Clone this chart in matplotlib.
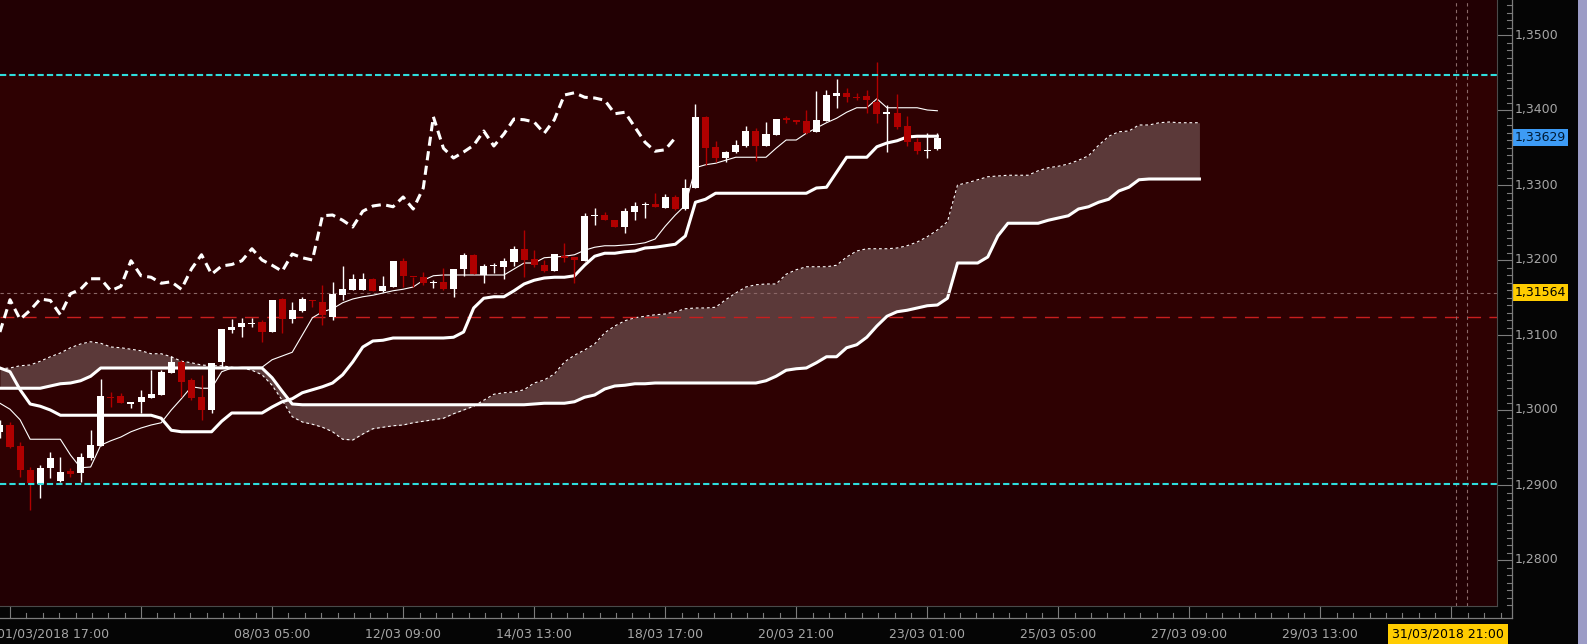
import numpy as np
import matplotlib
matplotlib.use('Agg')
import matplotlib.pyplot as plt
from matplotlib.transforms import blended_transform_factory
from matplotlib.patches import Rectangle
from matplotlib.lines import Line2D

# ---------------- data (4h candles, bar index 0 = 01/03/2018 17:00) ----------------
opens = [1.2971, 1.2980, 1.2952, 1.2920, 1.2901, 1.2923, 1.2905, 1.2919, 1.2916, 1.2936,
         1.2952, 1.3018, 1.3019, 1.3008, 1.3011, 1.3016, 1.3020, 1.3049, 1.3064, 1.3040,
         1.3017, 1.3000, 1.3064, 1.3107, 1.3111, 1.3115, 1.3117, 1.3104, 1.3148, 1.3121,
         1.3132, 1.3147, 1.3144, 1.3124, 1.3153, 1.3160, 1.3160, 1.3175, 1.3159, 1.3164,
         1.3199, 1.3178, 1.3177, 1.3170, 1.3171, 1.3161, 1.3188, 1.3207, 1.3180, 1.3192,
         1.3191, 1.3197, 1.3215, 1.3201, 1.3193, 1.3185, 1.3206, 1.3204, 1.3199, 1.3259,
         1.3260, 1.3253, 1.3244, 1.3264, 1.3273, 1.3275, 1.3270, 1.3284, 1.3268, 1.3296,
         1.3391, 1.3351, 1.3336, 1.3344, 1.3352, 1.3372, 1.3352, 1.3367, 1.3389, 1.3387,
         1.3385, 1.3371, 1.3385, 1.3419, 1.3423, 1.3418, 1.3419, 1.3411, 1.3395, 1.3396,
         1.3379, 1.3357, 1.3346, 1.3348]
highs = [1.2987, 1.2984, 1.2957, 1.2924, 1.2927, 1.2944, 1.2937, 1.2923, 1.2943, 1.2973,
         1.3041, 1.3024, 1.3023, 1.3011, 1.3027, 1.3053, 1.3053, 1.3072, 1.3067, 1.3043,
         1.3047, 1.3063, 1.3108, 1.3121, 1.3123, 1.3123, 1.3120, 1.3147, 1.3149, 1.3144,
         1.3151, 1.3147, 1.3167, 1.3171, 1.3192, 1.3181, 1.3183, 1.3176, 1.3179, 1.3199,
         1.3203, 1.3178, 1.3184, 1.3173, 1.3189, 1.3188, 1.3209, 1.3208, 1.3195, 1.3196,
         1.3203, 1.3219, 1.3240, 1.3213, 1.3200, 1.3208, 1.3223, 1.3204, 1.3263, 1.3269,
         1.3264, 1.3254, 1.3269, 1.3277, 1.3277, 1.3289, 1.3288, 1.3287, 1.3308, 1.3408,
         1.3392, 1.3359, 1.3345, 1.3360, 1.3379, 1.3376, 1.3384, 1.3388, 1.3392, 1.3387,
         1.3400, 1.3425, 1.3427, 1.3441, 1.3429, 1.3423, 1.3427, 1.3464, 1.3407, 1.3421,
         1.3392, 1.3363, 1.3369, 1.3369]
lows = [1.2963, 1.2949, 1.2911, 1.2867, 1.2883, 1.2909, 1.2904, 1.2911, 1.2904, 1.2933,
        1.2952, 1.3004, 1.3009, 1.3003, 1.2996, 1.3016, 1.3020, 1.3049, 1.3017, 1.3013,
        1.2987, 1.2996, 1.3057, 1.3103, 1.3097, 1.3111, 1.3091, 1.3104, 1.3103, 1.3116,
        1.3131, 1.3137, 1.3113, 1.3120, 1.3147, 1.3160, 1.3160, 1.3159, 1.3157, 1.3164,
        1.3164, 1.3164, 1.3167, 1.3163, 1.3160, 1.3151, 1.3179, 1.3181, 1.3169, 1.3183,
        1.3175, 1.3192, 1.3177, 1.3191, 1.3184, 1.3185, 1.3197, 1.3169, 1.3199, 1.3247,
        1.3253, 1.3244, 1.3236, 1.3253, 1.3256, 1.3271, 1.3269, 1.3267, 1.3267, 1.3296,
        1.3327, 1.3331, 1.3331, 1.3343, 1.3351, 1.3332, 1.3352, 1.3367, 1.3383, 1.3381,
        1.3368, 1.3371, 1.3385, 1.3403, 1.3411, 1.3413, 1.3396, 1.3383, 1.3344, 1.3375,
        1.3352, 1.3341, 1.3336, 1.3347]
closes = [1.2980, 1.2951, 1.2920, 1.2903, 1.2923, 1.2936, 1.2917, 1.2915, 1.2937, 1.2953,
          1.3019, 1.3016, 1.3009, 1.3011, 1.3017, 1.3021, 1.3051, 1.3064, 1.3037, 1.3016,
          1.3000, 1.3063, 1.3108, 1.3111, 1.3116, 1.3116, 1.3104, 1.3147, 1.3121, 1.3133,
          1.3148, 1.3146, 1.3127, 1.3155, 1.3161, 1.3175, 1.3175, 1.3159, 1.3165, 1.3199,
          1.3179, 1.3177, 1.3169, 1.3171, 1.3161, 1.3188, 1.3207, 1.3181, 1.3192, 1.3194,
          1.3199, 1.3215, 1.3200, 1.3193, 1.3185, 1.3208, 1.3203, 1.3200, 1.3259, 1.3260,
          1.3253, 1.3244, 1.3265, 1.3272, 1.3274, 1.3271, 1.3284, 1.3268, 1.3296, 1.3391,
          1.3349, 1.3336, 1.3344, 1.3353, 1.3372, 1.3352, 1.3368, 1.3388, 1.3387, 1.3384,
          1.3369, 1.3387, 1.3420, 1.3423, 1.3417, 1.3416, 1.3413, 1.3395, 1.3397, 1.3377,
          1.3357, 1.3345, 1.3347, 1.3363]

tenkan = [1.3009, 1.3001, 1.2987, 1.2961, 1.2961, 1.2961, 1.2961, 1.2940, 1.2923, 1.2924,
          1.2953, 1.2959, 1.2964, 1.2971, 1.2976, 1.2980, 1.2983, 1.3000, 1.3015, 1.3031,
          1.3029, 1.3029, 1.3051, 1.3056, 1.3057, 1.3057, 1.3057, 1.3067, 1.3072, 1.3077,
          1.3100, 1.3123, 1.3131, 1.3135, 1.3143, 1.3148, 1.3151, 1.3153, 1.3156, 1.3159,
          1.3161, 1.3164, 1.3173, 1.3179, 1.3180, 1.3180, 1.3180, 1.3180, 1.3180, 1.3180,
          1.3180, 1.3188, 1.3196, 1.3196, 1.3203, 1.3204, 1.3205, 1.3207, 1.3213, 1.3217,
          1.3219, 1.3219, 1.3220, 1.3221, 1.3223, 1.3228, 1.3245, 1.3260, 1.3273, 1.3323,
          1.3327, 1.3329, 1.3333, 1.3337, 1.3337, 1.3337, 1.3337, 1.3349, 1.3360, 1.3360,
          1.3369, 1.3376, 1.3383, 1.3389, 1.3397, 1.3403, 1.3403, 1.3415, 1.3403, 1.3403,
          1.3403, 1.3403, 1.3400, 1.3399]
kijun = [1.3056, 1.3051, 1.3027, 1.3008, 1.3005, 1.3000, 1.2993, 1.2993, 1.2993, 1.2993,
         1.2993, 1.2993, 1.2993, 1.2993, 1.2993, 1.2993, 1.2989, 1.2973, 1.2971, 1.2971,
         1.2971, 1.2971, 1.2985, 1.2996, 1.2996, 1.2996, 1.2996, 1.3004, 1.3011, 1.3015,
         1.3023, 1.3027, 1.3031, 1.3036, 1.3047, 1.3064, 1.3084, 1.3092, 1.3093, 1.3096,
         1.3096, 1.3096, 1.3096, 1.3096, 1.3096, 1.3097, 1.3104, 1.3136, 1.3149, 1.3151,
         1.3151, 1.3159, 1.3168, 1.3173, 1.3176, 1.3177, 1.3177, 1.3179, 1.3193, 1.3205,
         1.3209, 1.3209, 1.3211, 1.3212, 1.3216, 1.3217, 1.3219, 1.3221, 1.3232, 1.3277,
         1.3281, 1.3289, 1.3289, 1.3289, 1.3289, 1.3289, 1.3289, 1.3289, 1.3289, 1.3289,
         1.3289, 1.3296, 1.3297, 1.3317, 1.3337, 1.3337, 1.3337, 1.3351, 1.3356, 1.3359,
         1.3364, 1.3365, 1.3365, 1.3365]
span_a = [1.3055, 1.3056, 1.3059, 1.3060, 1.3065, 1.3071, 1.3076, 1.3083, 1.3088, 1.3091,
          1.3089, 1.3084, 1.3083, 1.3081, 1.3079, 1.3075, 1.3075, 1.3071, 1.3065, 1.3063,
          1.3060, 1.3059, 1.3059, 1.3057, 1.3056, 1.3053, 1.3047, 1.3033, 1.3013, 1.2991,
          1.2984, 1.2981, 1.2977, 1.2971, 1.2961, 1.2960, 1.2968, 1.2975, 1.2977, 1.2979,
          1.2980, 1.2983, 1.2985, 1.2987, 1.2989, 1.2995, 1.3000, 1.3005, 1.3013, 1.3021,
          1.3023, 1.3024, 1.3027, 1.3036, 1.3040, 1.3048, 1.3064, 1.3073, 1.3080, 1.3088,
          1.3103, 1.3112, 1.3119, 1.3123, 1.3125, 1.3127, 1.3128, 1.3131, 1.3135, 1.3136,
          1.3136, 1.3137, 1.3147, 1.3156, 1.3164, 1.3167, 1.3168, 1.3168, 1.3181, 1.3187,
          1.3191, 1.3191, 1.3191, 1.3193, 1.3204, 1.3212, 1.3215, 1.3215, 1.3215, 1.3216,
          1.3219, 1.3224, 1.3231, 1.3240, 1.3251, 1.3300, 1.3303, 1.3307, 1.3311, 1.3312,
          1.3313, 1.3313, 1.3313, 1.3319, 1.3323, 1.3325, 1.3328, 1.3333, 1.3339, 1.3353,
          1.3365, 1.3371, 1.3372, 1.3380, 1.3380, 1.3383, 1.3384, 1.3383, 1.3383, 1.3383]
span_b = [1.3029, 1.3029, 1.3029, 1.3029, 1.3029, 1.3032, 1.3035, 1.3036, 1.3039, 1.3045,
          1.3056, 1.3056, 1.3056, 1.3056, 1.3056, 1.3056, 1.3056, 1.3056, 1.3056, 1.3056,
          1.3056, 1.3056, 1.3056, 1.3056, 1.3056, 1.3056, 1.3056, 1.3043, 1.3025, 1.3008,
          1.3007, 1.3007, 1.3007, 1.3007, 1.3007, 1.3007, 1.3007, 1.3007, 1.3007, 1.3007,
          1.3007, 1.3007, 1.3007, 1.3007, 1.3007, 1.3007, 1.3007, 1.3007, 1.3007, 1.3007,
          1.3007, 1.3007, 1.3007, 1.3008, 1.3009, 1.3009, 1.3009, 1.3011, 1.3017, 1.3020,
          1.3028, 1.3032, 1.3033, 1.3035, 1.3035, 1.3036, 1.3036, 1.3036, 1.3036, 1.3036,
          1.3036, 1.3036, 1.3036, 1.3036, 1.3036, 1.3036, 1.3039, 1.3045, 1.3053, 1.3055,
          1.3056, 1.3063, 1.3071, 1.3071, 1.3083, 1.3087, 1.3097, 1.3112, 1.3125, 1.3131,
          1.3133, 1.3136, 1.3139, 1.3140, 1.3149, 1.3196, 1.3196, 1.3196, 1.3204, 1.3232,
          1.3249, 1.3249, 1.3249, 1.3249, 1.3253, 1.3256, 1.3259, 1.3268, 1.3271, 1.3277,
          1.3281, 1.3292, 1.3297, 1.3307, 1.3308, 1.3308, 1.3308, 1.3308, 1.3308, 1.3308]
chikou_shift = 26

x_tick_bars = [27, 40, 53, 66, 79, 92, 105, 118, 131]
x_tick_labels = ["08/03 05:00", "12/03 09:00", "14/03 13:00", "18/03 17:00", "20/03 21:00",
                 "23/03 01:00", "25/03 05:00", "27/03 09:00", "29/03 13:00"]
first_label = "01/03/2018 17:00"
cursor_label = "31/03/2018 21:00"
y_ticks = [1.28, 1.29, 1.30, 1.31, 1.32, 1.33, 1.34, 1.35]
y_tick_labels = ["1,2800", "1,2900", "1,3000", "1,3100", "1,3200", "1,3300", "1,3400", "1,3500"]
last_price = 1.33629
last_price_label = "1,33629"
marker_price = 1.31564
marker_price_label = "1,31564"
cyan_levels = [1.3447, 1.2901]
red_level = 1.3124
cursor_bars = [144.5, 145.5]

# ---------------- figure ----------------
W, H = 1587, 644
fig = plt.figure(figsize=(W / 100, H / 100), dpi=100, facecolor='#050505')
ax = fig.add_axes([0, 1 - 606 / H, 1497 / W, 606 / H])
ax.set_xlim(0.08 / 10.08, 1497.08 / 10.08)
ax.set_ylim(1.35 - 571 / 7500, 1.35 + 35 / 7500)
ax.set_facecolor('#220003')
for s in ax.spines.values():
    s.set_visible(False)
ax.set_xticks([])
ax.set_yticks([])

ax.axhspan(min(cyan_levels), max(cyan_levels), color='#2e0102', lw=0, zorder=0)

# cloud
xs = np.arange(len(span_a))
ax.fill_between(xs, span_a, span_b, color='#5b3939', lw=0, zorder=1)
ax.plot(xs, span_a, color='white', lw=0.8, ls=(0, (2.5, 2.5)), zorder=2)
ax.plot(xs, span_b, color='white', lw=2.2, zorder=2, solid_joinstyle='round')

# horizontal reference lines
ax.axhline(red_level, color='#c81e1e', lw=1.0, ls=(0, (10, 6)), zorder=3)
ax.axhline(marker_price, color='#8a6666', lw=0.8, ls=(0, (3, 3)), zorder=3)
for cb in cursor_bars:
    ax.axvline(cb, color='#8a6a6a', lw=0.8, ls=(0, (3, 3)), zorder=3)

# tenkan / kijun
xl = np.arange(len(tenkan))
ax.plot(xl, tenkan, color='white', lw=0.8, zorder=4)
ax.plot(xl, kijun, color='white', lw=2.2, zorder=4, solid_joinstyle='round')

# candles
o = np.array(opens); h = np.array(highs); l = np.array(lows); c = np.array(closes)
xc = np.arange(len(o))
up = c >= o
cols = np.where(up, '#ffffff', '#b00000')
ax.vlines(xc, l, h, colors=cols, lw=1.0, zorder=5)
minh = 0.00014
bh = np.maximum(np.abs(c - o), minh)
mid = (o + c) / 2
ax.bar(xc, bh, bottom=mid - bh / 2, width=0.7, color=cols, lw=0, zorder=6)

# chikou span
chikou = c[chikou_shift:]
ax.plot(np.arange(len(chikou)), chikou, color='white', lw=2.2, ls=(0, (3, 1.8)), zorder=7)

# cyan levels
for lv in cyan_levels:
    ax.axhline(lv, color='#2fdcdc', lw=1.5, ls=(0, (3, 1.5)), zorder=8)

# ---------------- axes decoration (tick zones) ----------------
ty = blended_transform_factory(fig.transFigure, ax.transData)
tx = blended_transform_factory(ax.transData, fig.transFigure)
axis_col = '#7c7c7c'
lab_col = '#a6a6a6'

fig.add_artist(Line2D([1497 / W, 1497 / W], [1, 1 - 606 / H], color='#4a4a4a', lw=0.8))
fig.add_artist(Line2D([1512 / W, 1512 / W], [1, 1 - 618 / H], color=axis_col, lw=0.9))
fig.add_artist(Line2D([0, 1497 / W], [1 - 606 / H, 1 - 606 / H], color='#4a4a4a', lw=0.8))
fig.add_artist(Line2D([0, 1512 / W], [1 - 618 / H, 1 - 618 / H], color=axis_col, lw=0.9))

ylo, yhi = ax.get_ylim()
for p in np.arange(1.270, 1.360, 0.001):
    if ylo < p < yhi:
        major = abs(round(p * 100) - p * 100) < 1e-6
        x0 = 1498 if major else 1507
        ax.plot([x0 / W, 1512 / W], [p, p], color=axis_col, lw=0.8, transform=ty, clip_on=False)
for p, s in zip(y_ticks, y_tick_labels):
    ax.text(1515 / W, p, s, transform=ty, ha='left', va='center', color=lab_col, fontsize=9)

ax.text(1515 / W, last_price, last_price_label, transform=ty, ha='left', va='center',
        color='#001a33', fontsize=9,
        bbox=dict(boxstyle='square,pad=0.15', fc='#3d9bf5', ec='none'))
ax.text(1515 / W, marker_price, marker_price_label, transform=ty, ha='left', va='center',
        color='#000000', fontsize=9,
        bbox=dict(boxstyle='square,pad=0.15', fc='#ffcc00', ec='none'))

major_bars = [1 + 13 * j for j in range(12)]
for mb in major_bars:
    ax.plot([mb, mb], [1 - 606 / H, 1 - 618 / H], color=axis_col, lw=0.8, transform=tx, clip_on=False)
    for m in range(1, 8):
        k = mb + 13 * m / 8
        if k * 10.08 < 1510:
            ax.plot([k, k], [1 - 613 / H, 1 - 618 / H], color=axis_col, lw=0.8, transform=tx, clip_on=False)
for b, s in zip(x_tick_bars, x_tick_labels):
    ax.text(b, 1 - 634 / H, s, transform=tx, ha='center', va='center', color=lab_col, fontsize=9)
fig.text(-3 / W, 1 - 634 / H, first_label, ha='left', va='center', color=lab_col, fontsize=9)
fig.text(1448 / W, 1 - 634 / H, cursor_label, ha='center', va='center', color='#000000', fontsize=9,
         bbox=dict(boxstyle='square,pad=0.3', fc='#ffcc00', ec='none'))

fig.add_artist(Rectangle((1578 / W, 0), 9 / W, 1, transform=fig.transFigure,
                         fc='#9c9cc6', ec='none'))

fig.savefig('out.png', dpi=100, facecolor=fig.get_facecolor())
